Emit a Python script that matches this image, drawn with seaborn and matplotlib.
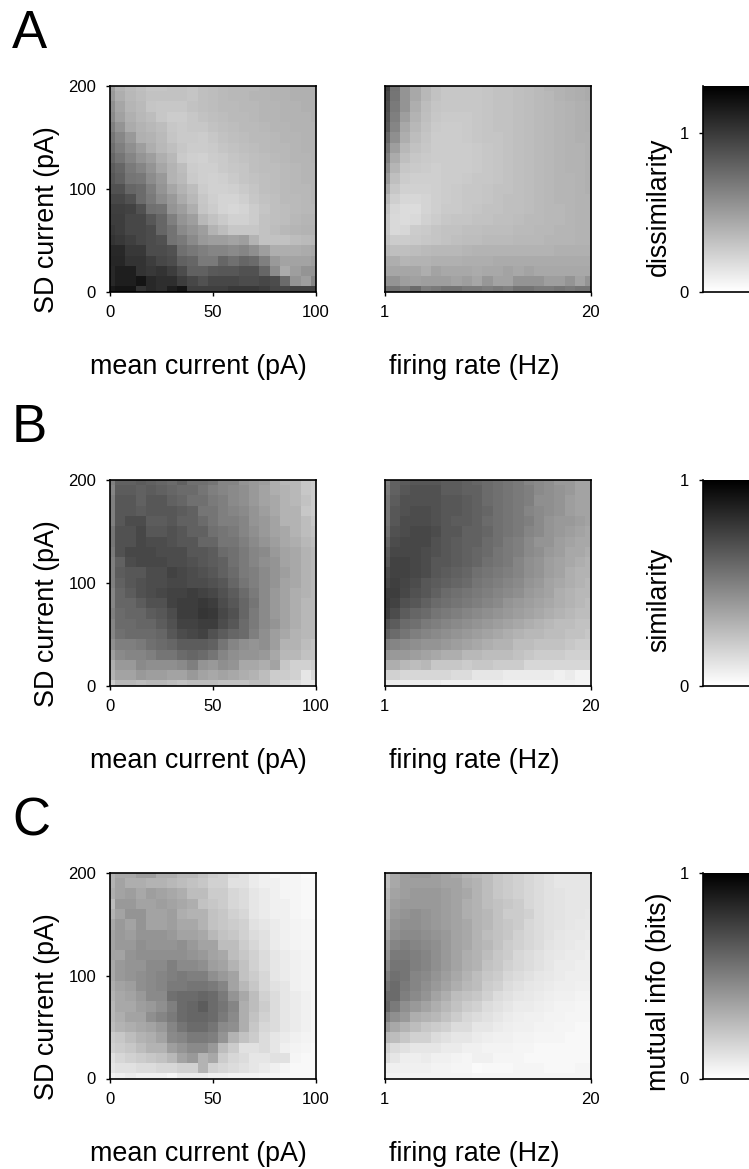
import numpy as np
import pandas as pd
import seaborn as sns
import matplotlib
matplotlib.use("Agg")
import matplotlib.pyplot as plt

sns.set_style("white")
plt.rcParams['font.family'] = ['Liberation Sans', 'DejaVu Sans']
plt.rcParams['text.color'] = 'black'

mean_ticks = ["0", "50", "100"]
rate_ticks = ["1", "20"]
sd_ticks = ["200", "100", "0"]

# Values: percent of colour-scale maximum; rows from SD 200 (top) to 0, columns left to right
dissim_mean = [
[38,30,27,25,23,23,24,24,23,25,26,27,28,28,28,29,30,30,31,31,31],
[40,32,28,26,24,24,24,24,23,25,26,27,28,28,29,29,30,30,31,31,31],
[44,35,29,27,23,22,22,22,24,25,26,27,27,28,28,29,29,30,30,31,31],
[46,37,31,28,26,22,20,20,22,24,25,26,27,27,28,29,29,30,30,30,31],
[50,42,33,30,28,26,22,21,22,22,24,25,26,27,27,28,29,29,30,30,30],
[54,47,40,31,30,27,23,21,21,20,22,24,25,26,27,27,28,29,29,30,30],
[57,50,44,38,32,28,25,22,20,20,21,23,24,25,26,27,28,28,29,30,30],
[60,54,48,42,38,32,28,21,19,18,20,21,23,24,25,26,27,28,29,29,30],
[64,60,52,48,42,35,30,26,20,19,19,21,22,23,25,26,26,27,28,29,29],
[66,62,54,53,45,40,30,27,21,19,18,19,21,23,24,25,26,27,28,29,29],
[68,68,60,58,50,42,35,30,26,20,18,18,19,21,23,25,26,27,28,28,29],
[72,72,68,58,52,45,40,33,28,22,19,17,17,19,22,24,25,27,27,28,29],
[75,75,74,68,56,55,42,38,32,23,20,17,16,17,20,23,25,26,27,28,28],
[76,76,72,72,66,60,50,42,38,28,24,21,18,18,20,24,25,26,28,29,29],
[78,76,72,72,70,60,55,46,42,38,30,26,22,22,22,24,26,28,29,30,30],
[80,78,75,72,70,68,55,52,46,40,38,38,36,38,30,24,24,24,26,27,28],
[84,84,78,78,70,70,68,56,53,50,48,48,46,48,44,38,32,32,32,33,34],
[85,85,80,80,76,72,70,62,60,52,52,60,56,60,58,50,40,36,36,36,38],
[84,88,88,80,78,80,76,70,62,62,65,66,66,68,68,60,45,33,38,42,42],
[84,88,88,92,84,82,82,76,72,68,72,72,72,70,70,72,70,58,42,38,48],
[90,92,92,80,84,82,88,92,75,75,75,75,78,78,78,76,72,72,74,74,74],
]
dissim_rate = [
[75,55,42,34,28,24,22,22,22,22,23,24,24,25,26,27,29,30,31,32,33],
[72,54,42,34,28,24,22,22,22,22,23,24,24,25,26,27,28,30,31,32,33],
[70,52,42,32,26,23,22,22,22,22,23,24,24,25,26,27,28,29,30,31,32],
[68,50,38,30,25,22,21,21,21,22,23,24,24,25,26,27,28,29,30,31,32],
[66,48,34,28,24,21,20,20,21,22,23,24,24,25,26,27,28,29,30,31,32],
[60,44,32,26,23,20,20,20,21,22,23,23,24,25,26,27,28,29,30,31,31],
[55,38,28,24,22,20,20,20,20,21,22,23,24,25,26,27,28,29,30,30,31],
[50,33,25,22,21,20,20,20,20,21,22,23,24,25,26,27,28,29,30,30,31],
[45,29,22,21,20,19,20,20,20,21,22,23,24,25,26,27,28,29,30,30,31],
[40,25,20,19,19,19,20,20,21,22,22,23,24,25,26,27,28,29,29,30,31],
[34,22,18,18,18,19,20,21,22,22,23,24,24,25,26,27,28,29,29,30,31],
[28,19,16,16,17,19,20,21,22,22,23,24,25,25,26,27,28,29,29,30,30],
[24,16,14,14,17,19,21,21,22,23,24,24,25,25,26,27,28,28,29,30,30],
[22,15,14,15,18,20,22,23,23,24,24,25,25,26,27,27,28,28,29,30,30],
[22,15,16,20,21,23,24,24,25,25,26,26,26,27,27,28,28,29,29,30,30],
[24,20,20,21,22,23,24,25,26,26,27,27,27,28,28,28,29,29,29,30,30],
[28,25,25,26,27,28,28,28,29,30,30,30,30,30,30,30,30,31,31,31,31],
[33,32,29,30,30,31,31,31,32,32,32,33,33,33,33,33,33,33,33,33,33],
[35,35,35,35,32,36,34,34,34,33,34,34,36,34,36,34,34,34,34,34,34],
[42,42,38,37,38,38,38,36,38,35,41,36,36,42,42,42,38,38,42,36,42],
[55,55,52,58,50,52,55,55,52,52,50,52,50,55,55,52,52,54,52,54,54],
]
sim_mean = [
[50,62,62,64,62,60,58,62,56,56,54,48,48,42,40,38,32,28,28,22,20],
[48,64,64,62,64,62,60,58,58,54,50,48,46,44,40,36,32,30,28,22,20],
[50,66,66,62,66,66,62,60,56,56,52,50,46,44,40,36,34,30,28,24,20],
[50,66,66,64,66,66,66,64,62,54,54,50,48,46,42,38,34,30,30,22,20],
[50,66,70,70,64,64,66,62,62,58,54,50,50,48,42,40,36,30,30,26,22],
[54,68,68,72,66,66,68,66,62,62,56,54,52,48,44,40,36,34,30,26,24],
[54,68,68,72,70,70,68,66,66,60,60,54,54,50,46,42,38,34,32,28,26],
[52,68,72,72,72,70,70,70,66,66,64,58,56,52,48,46,40,36,34,30,28],
[50,62,70,72,72,72,70,70,68,66,64,62,56,52,48,44,42,36,34,30,28],
[50,64,66,66,70,70,74,72,70,68,66,62,58,52,50,46,42,38,34,30,28],
[50,62,66,68,70,70,72,72,70,70,68,66,60,54,50,46,42,36,34,30,28],
[48,60,64,68,70,72,74,74,76,74,72,68,64,58,52,46,40,36,32,30,28],
[48,60,60,64,68,68,74,76,76,78,76,70,66,60,54,46,40,36,32,28,28],
[50,58,60,60,64,66,70,76,76,79,78,72,68,60,52,46,40,36,32,28,28],
[48,58,58,60,60,64,68,74,74,76,76,70,66,58,52,46,42,36,32,28,28],
[48,56,58,58,58,60,66,70,72,74,68,64,60,58,50,44,38,34,30,28,28],
[44,50,50,52,56,58,60,64,64,64,62,54,48,44,42,44,38,30,30,26,24],
[38,46,48,48,50,54,54,58,60,58,54,48,44,42,42,40,34,28,28,24,24],
[32,40,40,46,44,44,44,46,50,42,40,44,42,34,34,32,36,22,18,18,20],
[30,36,36,40,38,38,36,36,40,36,34,36,34,32,30,26,20,20,18,10,16],
[20,28,28,26,28,28,26,24,26,26,26,24,24,24,26,26,20,16,14,10,10],
]
sim_rate = [
[50,62,64,66,66,66,64,64,62,60,58,56,54,52,48,46,44,40,40,36,36],
[52,62,66,68,68,68,64,64,62,62,58,56,54,52,50,46,44,42,40,36,36],
[54,64,68,68,68,68,66,66,64,62,58,56,54,52,50,44,44,42,38,36,36],
[54,66,68,70,70,68,66,66,64,62,60,56,54,52,48,46,44,42,38,36,36],
[54,66,70,70,70,68,66,64,64,62,58,56,54,52,50,46,42,40,40,38,36],
[56,68,70,72,72,70,66,66,62,62,60,56,54,52,48,46,42,40,38,36,34],
[60,70,72,72,72,68,66,64,62,62,58,56,52,50,46,42,42,38,36,34,34],
[64,72,72,72,70,68,66,64,62,60,58,54,52,50,46,44,40,38,34,34,32],
[66,74,74,72,70,66,66,64,62,60,56,54,52,48,44,42,38,36,34,32,30],
[70,74,74,72,70,66,64,62,60,56,54,52,50,48,44,42,38,36,32,30,30],
[72,75,73,70,66,64,62,60,58,54,52,50,48,46,42,40,36,34,32,30,28],
[76,76,72,68,66,62,58,56,54,52,50,48,46,44,40,38,36,32,30,28,28],
[77,74,68,66,62,58,56,54,52,50,48,46,42,40,38,36,34,32,30,28,26],
[76,70,64,60,58,54,52,50,48,46,44,42,40,38,36,34,32,30,28,26,26],
[68,64,58,56,52,50,48,46,44,42,40,38,36,34,32,30,28,26,26,24,24],
[62,58,54,50,48,46,44,42,40,38,36,34,32,30,28,28,26,26,24,24,22],
[50,48,46,44,42,42,40,38,36,34,32,30,30,26,26,24,24,24,22,20,20],
[42,40,40,38,36,34,32,32,28,28,26,26,26,24,22,20,20,20,18,18,18],
[32,32,28,26,28,22,22,22,20,22,22,20,20,20,16,16,16,16,16,16,16],
[18,18,16,16,16,16,16,14,14,10,10,10,8,8,8,8,8,6,8,5,5],
[8,8,8,8,8,8,6,6,6,6,6,6,5,5,5,5,5,5,5,4,4],
]
mi_mean = [
[30,34,34,38,38,32,32,28,28,24,20,18,14,12,8,6,4,4,4,2,2],
[30,36,32,32,30,30,28,26,24,22,18,18,12,12,8,6,6,4,4,3,3],
[32,36,38,34,38,36,34,32,26,26,20,20,16,14,10,8,6,4,4,3,3],
[26,40,40,36,36,38,36,34,32,24,22,20,16,14,10,8,6,6,4,3,3],
[30,36,42,42,36,36,38,32,30,30,24,22,18,16,10,8,6,6,4,3,3],
[34,40,36,42,36,36,38,34,34,30,24,22,20,18,12,10,8,6,5,4,4],
[36,40,38,42,42,42,40,36,36,34,28,24,22,18,14,12,8,6,5,4,4],
[36,40,40,44,42,42,42,44,40,36,36,26,26,20,16,12,8,6,5,4,4],
[36,36,42,44,44,44,44,44,42,40,36,34,26,22,18,14,10,8,6,5,4],
[34,40,42,42,46,46,50,46,46,44,38,36,30,24,18,14,10,8,6,5,4],
[34,40,42,44,46,48,50,52,50,50,44,40,36,24,20,16,10,8,6,5,4],
[32,36,38,44,46,48,52,52,54,54,52,48,36,28,22,16,12,10,6,5,4],
[30,34,36,40,46,46,56,58,58,60,58,52,42,34,26,18,14,10,8,6,4],
[28,34,34,38,40,44,50,58,60,64,58,54,48,32,26,20,14,10,8,6,4],
[28,32,36,36,44,48,52,58,60,60,58,52,46,32,24,18,14,10,8,6,4],
[26,30,32,34,36,40,48,54,58,58,54,46,44,32,22,16,14,10,8,6,4],
[20,22,26,30,32,36,46,48,52,52,50,42,30,24,20,14,10,8,6,5,4],
[18,20,22,26,30,30,38,42,46,46,40,26,20,12,12,14,10,6,5,4,3],
[12,16,18,20,22,24,28,36,40,30,34,20,16,14,10,10,12,12,4,3,3],
[10,12,12,14,14,16,16,18,18,30,18,16,14,12,10,8,6,4,3,3,3],
[4,6,8,6,6,6,4,8,8,8,6,6,5,5,5,4,4,3,3,3,3],
]
mi_rate = [
[25,34,38,40,40,38,36,34,30,28,26,22,20,18,16,14,12,10,10,10,10],
[25,34,38,38,38,38,36,36,32,30,26,22,20,18,16,14,12,10,10,10,10],
[28,36,38,40,40,40,38,36,34,30,26,22,20,18,16,14,12,11,10,10,10],
[30,38,40,40,40,40,38,36,32,30,26,24,22,20,16,14,12,11,10,10,10],
[30,40,42,44,42,40,38,36,32,30,28,24,20,20,18,14,12,11,10,10,9],
[32,42,44,44,42,40,38,36,34,30,28,24,22,20,16,14,12,11,10,9,9],
[36,44,46,46,44,42,40,36,34,30,26,24,22,18,16,14,12,10,9,9,8],
[40,48,50,48,46,44,40,36,34,30,28,24,20,18,16,14,11,10,9,8,8],
[42,52,52,50,48,44,40,36,32,30,26,22,20,16,14,12,10,9,8,8,7],
[46,54,54,50,48,44,40,36,32,30,24,22,18,16,14,12,10,8,8,7,7],
[50,56,54,48,46,42,38,34,30,26,22,20,16,14,12,10,9,8,7,7,7],
[54,58,52,48,44,40,36,32,28,26,20,18,14,12,10,9,8,7,7,6,6],
[58,58,50,46,42,36,32,26,24,22,18,14,12,10,9,8,7,6,6,5,5],
[60,52,44,40,36,32,28,24,20,18,14,12,10,8,8,7,6,5,5,4,4],
[50,44,40,32,30,28,24,20,16,14,12,10,8,7,6,6,5,5,4,4,4],
[40,34,30,26,22,20,18,14,14,10,10,8,7,6,6,5,5,4,4,3,3],
[28,26,22,18,18,14,12,10,10,8,7,6,6,5,5,4,4,4,3,3,3],
[18,14,12,10,10,10,8,8,6,6,5,5,5,4,4,3,3,3,3,3,3],
[14,10,7,7,8,6,6,5,4,6,6,4,4,4,3,3,3,3,3,3,3],
[7,6,6,6,6,5,5,4,4,2,3,3,3,4,4,4,3,3,3,4,4],
[5,5,5,5,5,5,5,5,5,4,4,4,4,4,4,4,4,4,4,4,4],
]
bar_ticks = [[0, 1], [0, 1], [0, 1]]
bar_max = [1.3, 1.0, 1.0]
bar_labels = ["dissimilarity", "similarity", "mutual info (bits)"]
bar_label_y = [207, 600, 992]
letters = ["A", "B", "C"]
means = [dissim_mean, sim_mean, mi_mean]
rates = [dissim_rate, sim_rate, mi_rate]

W, H = 749, 1169
fig = plt.figure(figsize=(W / 100, H / 100), dpi=100, facecolor="white")
def box(x0, y0, x1, y1):
    return fig.add_axes([x0 / W, 1 - y1 / H, (x1 - x0) / W, (y1 - y0) / H])

tops = [86, 480, 873]
HT = 205.5
TICK_FS = 12

def panel(ax, grid, ticks, labels):
    sns.heatmap(pd.DataFrame(grid), ax=ax, cmap="gray_r", vmin=0, vmax=100, cbar=False,
                xticklabels=False, yticklabels=False, rasterized=True)
    ax.set_xlim(0.5, 20.5)
    ax.set_ylim(20.5, 0.5)
    ax.set_xticks(ticks)
    ax.set_xticklabels(labels, fontsize=TICK_FS, color="black")
    for s in ax.spines.values():
        s.set_visible(True)
        s.set_color("black")
        s.set_linewidth(1.2)
    ax.tick_params(axis="both", length=3, width=1, color="black", labelcolor="black",
                   bottom=True, left=True, pad=7)

for i, top in enumerate(tops):
    bot = top + HT
    a = box(110, top, 316, bot)
    panel(a, means[i], [0.5, 10.5, 20.5], mean_ticks)
    a.set_yticks([0.5, 10.5, 20.5])
    a.set_yticklabels(sd_ticks, fontsize=TICK_FS, rotation=0, color="black")
    a.tick_params(axis="y", pad=7)
    fig.text(198 / W, 1 - (top + 281) / H, "mean current (pA)", fontsize=19.4, ha="center", va="center")
    fig.text(47 / W, 1 - (top + 134) / H, "SD current (pA)", fontsize=19.4, rotation=90, ha="center", va="center")

    b = box(384.5, top, 590.5, bot)
    panel(b, rates[i], [0.5, 20.5], rate_ticks)
    b.set_yticks([])
    fig.text(474 / W, 1 - (top + 281) / H, "firing rate (Hz)", fontsize=19.4, ha="center", va="center")

    # colour bar, running past the right edge of the figure as in the source
    c = box(703, top, 909, bot)
    levels = np.linspace(bar_max[i], 0, 206)[:, None]
    sns.heatmap(pd.DataFrame(levels), ax=c, cmap="gray_r", vmin=0, vmax=bar_max[i], cbar=False,
                xticklabels=False, yticklabels=False, rasterized=True)
    c.set_ylim(206, 0)
    c.set_yticks([206 * (1 - t / bar_max[i]) for t in bar_ticks[i]])
    c.set_yticklabels([str(t) for t in bar_ticks[i]], fontsize=TICK_FS, rotation=0, color="black")
    c.set_xticks([])
    c.tick_params(axis="y", length=3, width=1, left=True, color="black", labelcolor="black", pad=7)
    for side in ["left", "bottom"]:
        c.spines[side].set_visible(True)
        c.spines[side].set_linewidth(1.2)
        c.spines[side].set_color("black")
    fig.text(659 / W, 1 - bar_label_y[i] / H, bar_labels[i], fontsize=19.4, rotation=90, ha="center", va="center")

    fig.text(12 / W, 1 - (top - 38) / H, letters[i], fontsize=38, ha="left", va="baseline")

fig.savefig("out.png", dpi=100)
